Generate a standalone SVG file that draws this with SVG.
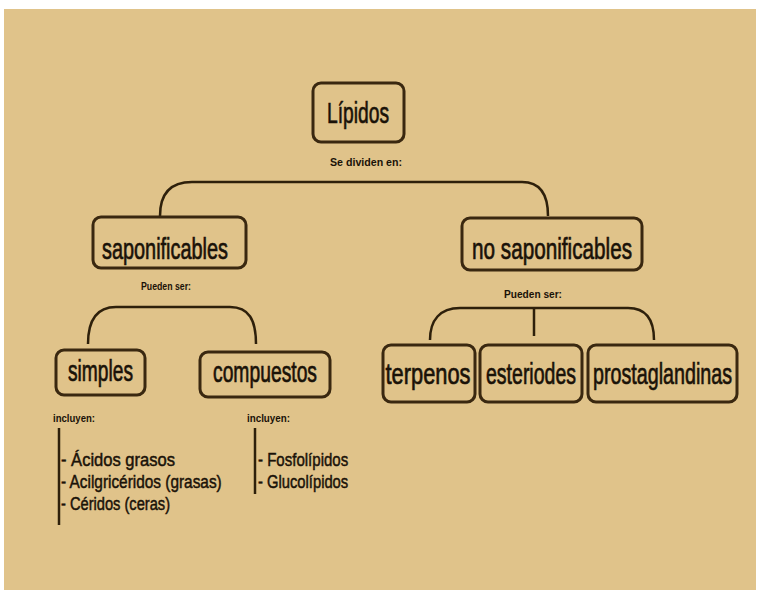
<svg xmlns="http://www.w3.org/2000/svg" width="762" height="593" viewBox="0 0 762 593">
<style>
.box{fill:#E0C38A;stroke:#3a2810;stroke-width:3}
.big{font-family:"Liberation Sans",Arial,sans-serif;font-size:30px;fill:#1a1208;stroke:#1a1208;stroke-width:0.7;text-anchor:middle}
.small{font-family:"Liberation Sans",Arial,sans-serif;font-size:11px;font-weight:bold;fill:#1a1208}
.item{font-family:"Liberation Sans",Arial,sans-serif;font-size:19px;fill:#1a1208;stroke:#1a1208;stroke-width:0.5}
.con{fill:none;stroke:#2e200b;stroke-width:2.5}
</style>
<rect x="0" y="0" width="762" height="593" fill="#ffffff"/>
<rect x="4" y="9" width="752" height="581" fill="#E0C38A"/>

<g id="connectors">
<path class="con" d="M160,216 C160,196 168,182 192,182 L522,182 C541,182 548,196 548,216"/>
<path class="con" d="M88,344 C88,321 96,307 116,307 L230,307 C249,307 256,320 256,344"/>
<path class="con" d="M430,340 C430,320 440,308 460,308 L628,308 C647,308 654,321 654,340"/>
<path class="con" d="M534,308 L534,336"/>
<path class="con" d="M59,428 L59,525"/>
<path class="con" d="M255,428 L255,494"/>
</g>

<g id="lipidos">
<rect class="box" x="313" y="83" width="91" height="59" rx="8"/>
<text class="big" transform="translate(358,123) scale(0.7,1)" x="0" y="0" font-size="32" textLength="88.6" lengthAdjust="spacingAndGlyphs">Lípidos</text>
<text class="small" x="366" y="166" text-anchor="middle" textLength="72" lengthAdjust="spacingAndGlyphs">Se dividen en:</text>
</g>

<g id="saponificables">
<rect class="box" x="93" y="217" width="153" height="51" rx="8"/>
<text class="big" transform="translate(165,259) scale(0.7,1)" x="0" y="0" textLength="180" lengthAdjust="spacingAndGlyphs">saponificables</text>
<text class="small" x="166" y="290" text-anchor="middle" textLength="50" lengthAdjust="spacingAndGlyphs">Pueden ser:</text>
</g>

<g id="no-saponificables">
<rect class="box" x="462" y="218" width="180" height="52" rx="8"/>
<text class="big" transform="translate(552,259) scale(0.7,1)" x="0" y="0" textLength="228.6" lengthAdjust="spacingAndGlyphs">no saponificables</text>
<text class="small" x="533" y="298" text-anchor="middle" textLength="58" lengthAdjust="spacingAndGlyphs">Pueden ser:</text>
</g>

<g id="simples">
<rect class="box" x="56" y="350" width="89" height="45" rx="8"/>
<text class="big" transform="translate(100.5,381) scale(0.7,1)" x="0" y="0" font-size="28" textLength="92.9" lengthAdjust="spacingAndGlyphs">simples</text>
<text class="small" x="53" y="422" textLength="42" lengthAdjust="spacingAndGlyphs">incluyen:</text>
<text class="item" transform="translate(61,466) scale(0.82,1)" x="0" y="0" textLength="139" lengthAdjust="spacingAndGlyphs">- Ácidos grasos</text>
<text class="item" transform="translate(61,488) scale(0.82,1)" x="0" y="0" textLength="196" lengthAdjust="spacingAndGlyphs">- Acilgricéridos (grasas)</text>
<text class="item" transform="translate(61,510) scale(0.82,1)" x="0" y="0" textLength="133" lengthAdjust="spacingAndGlyphs">- Céridos (ceras)</text>
</g>

<g id="compuestos">
<rect class="box" x="200" y="352" width="130" height="45" rx="8"/>
<text class="big" transform="translate(265,382) scale(0.7,1)" x="0" y="0" font-size="28" textLength="148.6" lengthAdjust="spacingAndGlyphs">compuestos</text>
<text class="small" x="247" y="422" textLength="43" lengthAdjust="spacingAndGlyphs">incluyen:</text>
<text class="item" transform="translate(258,466) scale(0.82,1)" x="0" y="0" textLength="110" lengthAdjust="spacingAndGlyphs">- Fosfolípidos</text>
<text class="item" transform="translate(258,488) scale(0.82,1)" x="0" y="0" textLength="110" lengthAdjust="spacingAndGlyphs">- Glucolípidos</text>
</g>

<g id="terpenos">
<rect class="box" x="383" y="345" width="92" height="57" rx="8"/>
<text class="big" transform="translate(428,384) scale(0.7,1)" x="0" y="0" font-size="28" textLength="121.4" lengthAdjust="spacingAndGlyphs">terpenos</text>
</g>

<g id="esteriodes">
<rect class="box" x="480" y="345" width="102" height="57" rx="8"/>
<text class="big" transform="translate(531,384) scale(0.7,1)" x="0" y="0" font-size="28" textLength="128.6" lengthAdjust="spacingAndGlyphs">esteriodes</text>
</g>

<g id="prostaglandinas">
<rect class="box" x="588" y="345" width="149" height="57" rx="8"/>
<text class="big" transform="translate(662.5,384) scale(0.7,1)" x="0" y="0" font-size="28" textLength="198.6" lengthAdjust="spacingAndGlyphs">prostaglandinas</text>
</g>
</svg>
